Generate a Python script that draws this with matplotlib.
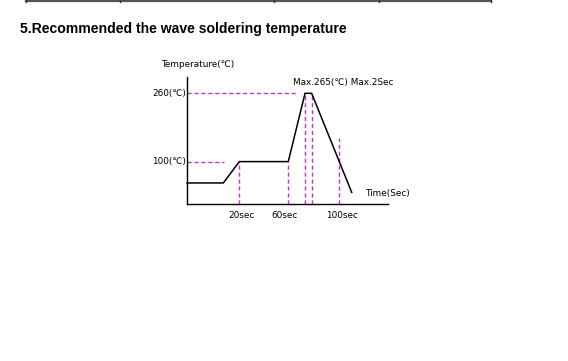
import matplotlib
matplotlib.use("Agg")
import matplotlib.pyplot as plt
from matplotlib.lines import Line2D

# Schematic profile (x in schematic time units, y in degC)
profile_t = [0, 24.2, 34.9, 67.5, 78.7, 83.1, 109.8]
profile_temp = [50, 50, 100, 100, 260, 260, 28]

# dashed guide lines
vguide_t = [34.9, 67.5, 78.7, 83.1, 101.3]
vguide_top = [100, 100, 260, 260, 155]
hguide_levels = [260, 100]
hguide_end = [74.0, 24.7]
level_labels = ["260(℃)", "100(℃)"]

tick_pos = [36.0, 64.7, 103.1]
tick_labels = ["20sec", "60sec", "100sec"]

title = "5.Recommended the wave soldering temperature"
ylabel = "Temperature(℃)"
xlabel = "Time(Sec)"
peak_note = "Max.265(℃) Max.2Sec"

W, H = 568, 361
fig = plt.figure(figsize=(W / 100, H / 100), dpi=100)
fig.patch.set_facecolor("white")

narrow = ["Liberation Sans Narrow", "DejaVu Sans"]
fs = 6.4
magenta = "#cc33cc"

def fx(px):
    return px / W

def fy(py):
    return 1 - py / H

# table border at top
fig.add_artist(Line2D([fx(26), fx(491)], [fy(1.2), fy(1.2)], color="#555555", lw=1.6))
for px in [26, 120, 274, 379, 491]:
    fig.add_artist(Line2D([fx(px), fx(px)], [fy(0), fy(2)], color="#333333", lw=1.0))

fig.text(fx(20), fy(29), title, fontsize=10.05, fontweight="bold",
         family=["Liberation Sans", "DejaVu Sans"], va="center", ha="left")

ax_l, ax_r, ax_b, ax_t = 187, 388, 204.3, 77
ax = fig.add_axes([fx(ax_l), fy(ax_b), (ax_r - ax_l) / W, (ax_b - ax_t) / H])
ax.set_xlim(0, 134)
ax.set_ylim(0, 298.2)
ax.set_facecolor("none")
for s in ["top", "right"]:
    ax.spines[s].set_visible(False)
for s in ["left", "bottom"]:
    ax.spines[s].set_linewidth(1.0)
    ax.spines[s].set_color("black")
ax.set_xticks([])
ax.set_yticks([])

dash = (0, (3, 2))
for t, top in zip(vguide_t, vguide_top):
    ax.plot([t, t], [0, top], color=magenta, lw=1.0, linestyle=dash, clip_on=False)
for lvl, xe in zip(hguide_levels, hguide_end):
    ax.plot([0, xe], [lvl, lvl], color=magenta, lw=1.0, linestyle=dash, clip_on=False)

ax.plot(profile_t, profile_temp, color="black", lw=1.1, clip_on=False,
        solid_joinstyle="miter")

for lvl, lab in zip(hguide_levels, level_labels):
    ax.text(-0.8, lvl, lab, ha="right", va="center", fontsize=fs, family=narrow)

for p, lab in zip(tick_pos, tick_labels):
    ax.text(p, -26, lab, ha="center", va="center", fontsize=fs, family=narrow)

ax.text(-17.3, 328, ylabel, ha="left", va="center", fontsize=fs, family=narrow,
        clip_on=False)
ax.text(119, 25, xlabel, ha="left", va="center", fontsize=fs, family=narrow)
ax.text(104, 285, peak_note, ha="center", va="center", fontsize=fs, family=narrow)

fig.savefig("out.png", dpi=100, facecolor="white")
